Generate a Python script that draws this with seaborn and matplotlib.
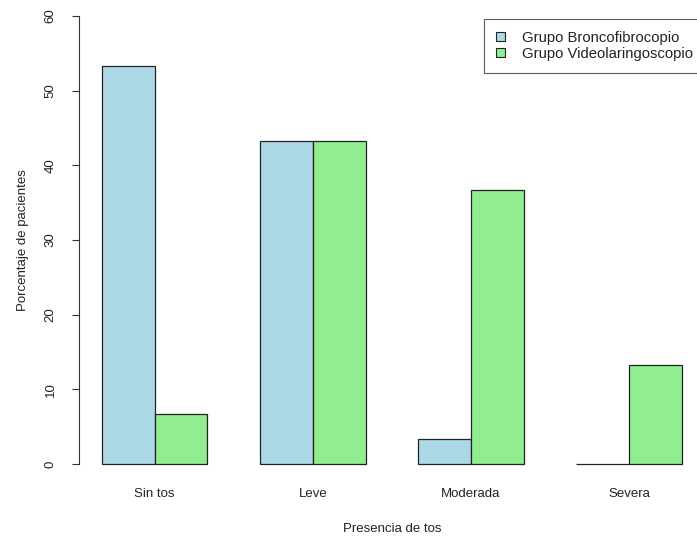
import matplotlib
matplotlib.use("Agg")
import matplotlib.pyplot as plt
import seaborn as sns
import pandas as pd
from matplotlib.patches import Patch

categorias = ["Sin tos", "Leve", "Moderada", "Severa"]
grupos = ["Grupo Broncofibrocopio", "Grupo Videolaringoscopio"]
broncofibrocopio = [53.33, 43.33, 3.33, 0.0]
videolaringoscopio = [6.67, 43.33, 36.67, 13.33]
colores = ["#ADD8E6", "#90EE90"]
yticks = [0, 10, 20, 30, 40, 50, 60]

df = pd.DataFrame({
    "tos": categorias * 2,
    "grupo": [grupos[0]] * 4 + [grupos[1]] * 4,
    "pct": broncofibrocopio + videolaringoscopio,
})

sns.set_style("white")
plt.rcParams["font.family"] = ["Liberation Sans", "DejaVu Sans"]

fig = plt.figure(figsize=(6.97, 5.37), dpi=100)
ax = fig.add_axes([0.113, 0.1024, 0.8985, 0.901])

sns.barplot(data=df, x="tos", y="pct", hue="grupo", order=categorias,
            hue_order=grupos, palette=colores, width=2 / 3, gap=0,
            edgecolor="#222222", linewidth=0.9, saturation=1, ax=ax,
            legend=False)

ax.set_xlim(-0.48, 3.48)
ax.set_ylim(-2.4, 62.4)
ax.set_yticks(yticks)
ax.set_yticklabels([str(t) for t in yticks], rotation=90, va="center",
                   fontsize=9.5, color="#222222")
ax.tick_params(axis="y", length=5, width=0.8, color="#333333", pad=11, left=True)
ax.tick_params(axis="x", length=0, pad=4, labelsize=9.5, labelcolor="#222222")

for s in ["top", "right", "bottom"]:
    ax.spines[s].set_visible(False)
ax.spines["left"].set_bounds(0, 60)
ax.spines["left"].set_color("#333333")
ax.spines["left"].set_linewidth(0.8)

ax.set_xlabel("Presencia de tos", fontsize=9.5, color="#222222", labelpad=17)
ax.set_ylabel("Porcentaje de pacientes", fontsize=9.5, color="#222222", labelpad=11)

handles = [Patch(facecolor=c, edgecolor="#222222", linewidth=0.8) for c in colores]
leg = fig.legend(handles, grupos, loc="upper left",
                 bbox_to_anchor=(484 / 697, 1 - 19 / 537),
                 frameon=True, fancybox=False, fontsize=10.7,
                 handlelength=0.6, handleheight=0.5, handletextpad=1.15,
                 labelspacing=0.12, borderpad=0.8, borderaxespad=0)
leg.get_frame().set_edgecolor("#333333")
leg.get_frame().set_linewidth(0.8)
for t in leg.get_texts():
    t.set_color("#222222")

fig.savefig("out.png", dpi=100)
